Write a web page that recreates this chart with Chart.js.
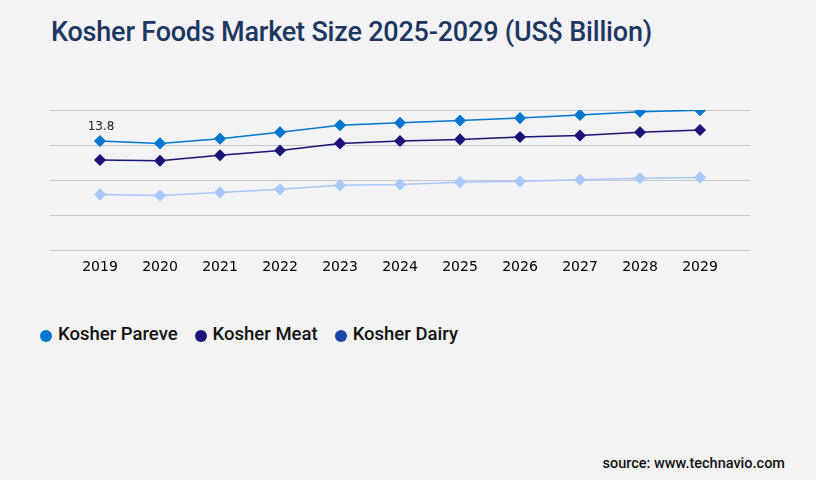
<!DOCTYPE html>
<html>
<head>
<meta charset="utf-8">
<script src="https://cdn.jsdelivr.net/npm/chart.js@4.4.1/dist/chart.umd.min.js"></script>
<style>
  html, body { margin: 0; padding: 0; }
  body { width: 816px; height: 480px; background: #f3f3f6; position: relative; overflow: hidden; font-family: Roboto, sans-serif; }
  #title { position: absolute; left: 51px; top: 16px; margin: 0; font-size: 27px; font-weight: 500; color: #1d3762; letter-spacing: -0.2px; }
  #chart-box { position: absolute; left: 0; top: 90px; width: 816px; height: 200px; }
  #bottom-panel { position: absolute; left: 30px; top: 328px; right: 0; bottom: 0; background: #f2f2f3; }
  #legend { position: absolute; left: 40px; top: 323px; display: flex; font-size: 18.5px; font-weight: 500; color: #111; }
  #legend .item { display: flex; align-items: center; margin-right: 17px; }
  #legend .dot { width: 12px; height: 12px; border-radius: 50%; margin-right: 6px; margin-top: 3px; }
  #source { position: absolute; right: 31px; top: 455px; font-size: 14.5px; font-weight: 500; color: #111; }
</style>
</head>
<body>
<div id="bottom-panel"></div>
<h1 id="title">Kosher Foods Market Size 2025-2029 (US$ Billion)</h1>
<div id="chart-box"><canvas id="chart"></canvas></div>
<div id="legend"></div>
<div id="source">source: www.technavio.com</div>

<script>
const years = [2019, 2020, 2021, 2022, 2023, 2024, 2025, 2026, 2027, 2028, 2029];
const parevePoints = [13.8, 13.5, 14.1, 14.9, 15.8, 16.1, 16.4, 16.7, 17.1, 17.5, 17.7];
const meatPoints = [11.4, 11.3, 12.0, 12.6, 13.5, 13.8, 14.0, 14.3, 14.5, 14.9, 15.2];
const dairyPoints = [7.05, 6.9, 7.3, 7.7, 8.2, 8.3, 8.6, 8.7, 8.9, 9.1, 9.2];
const seriesNames = ['Kosher Pareve', 'Kosher Meat', 'Kosher Dairy'];
const legendColors = ['#0077cf', '#1a1478', '#1a47a8'];
const yMax = 17.72;

// legend html
const legend = document.getElementById('legend');
seriesNames.forEach((name, i) => {
  const item = document.createElement('div');
  item.className = 'item';
  item.innerHTML = '<span class="dot" style="background:' + legendColors[i] + '"></span>' + name;
  legend.appendChild(item);
});

function toXY(values) {
  return values.map((v, i) => ({ x: years[i], y: v }));
}

function lineSet(label, values, color) {
  return {
    label: label,
    data: toXY(values),
    borderColor: color,
    backgroundColor: color,
    borderWidth: 1.5,
    pointStyle: 'rectRot',
    pointRadius: 5,
    pointHoverRadius: 5,
    tension: 0
  };
}

// first value label
const firstLabel = {
  id: 'firstLabel',
  afterDatasetsDraw(chart) {
    const pt = chart.getDatasetMeta(0).data[0];
    const ctx = chart.ctx;
    ctx.save();
    ctx.font = '12px "DejaVu Sans", sans-serif';
    ctx.fillStyle = '#222';
    ctx.textAlign = 'center';
    ctx.textBaseline = 'bottom';
    ctx.fillText(parevePoints[0].toFixed(1), pt.x + 1, pt.y - 8);
    ctx.restore();
  }
};

new Chart('chart', {
  type: 'line',
  data: {
    datasets: [
      lineSet(seriesNames[0], parevePoints, '#0077cf'),
      lineSet(seriesNames[1], meatPoints, '#1a1478'),
      lineSet(seriesNames[2], dairyPoints, '#a8c8fa')
    ]
  },
  options: {
    responsive: true,
    maintainAspectRatio: false,
    animation: false,
    layout: { padding: { left: 50, right: 66, top: 20, bottom: 13 } },
    plugins: {
      legend: { display: false },
      tooltip: { enabled: false }
    },
    scales: {
      x: {
        type: 'linear',
        min: years[0] - 50 / 60,
        max: years[years.length - 1] + 50 / 60,
        afterBuildTicks: (scale) => { scale.ticks = years.map(y => ({ value: y })); },
        grid: { display: false },
        border: { display: false },
        ticks: {
          color: '#000',
          padding: 1,
          font: { family: '"DejaVu Sans", sans-serif', size: 14 },
          callback: (v) => String(v)
        }
      },
      y: {
        min: 0,
        max: yMax,
        afterBuildTicks: (scale) => { scale.ticks = [0, 1, 2, 3, 4].map(i => ({ value: i * yMax / 4 })); },
        grid: { color: '#c8c8cc', lineWidth: 1, drawTicks: false },
        border: { display: false },
        ticks: { display: false }
      }
    }
  },
  plugins: [firstLabel]
});
</script>
</body>
</html>
